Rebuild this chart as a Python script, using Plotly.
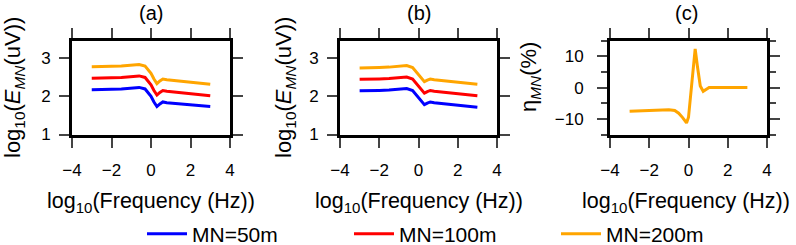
import plotly.graph_objects as go

# ---------------- data ----------------
log_freq = [-3, -2.5, -2, -1.5, -1, -0.6, -0.3, 0, 0.15, 0.3, 0.45, 0.6, 0.8, 1.0, 1.5, 2, 2.5, 3]

a_mn50 = [2.17, 2.17, 2.18, 2.19, 2.21, 2.23, 2.19, 2.00, 1.85, 1.73, 1.80, 1.85, 1.83, 1.82, 1.80, 1.77, 1.75, 1.73]
a_mn100 = [2.47, 2.47, 2.48, 2.49, 2.51, 2.53, 2.49, 2.30, 2.15, 2.03, 2.10, 2.15, 2.13, 2.12, 2.10, 2.07, 2.04, 2.01]
a_mn200 = [2.77, 2.77, 2.78, 2.79, 2.81, 2.83, 2.79, 2.60, 2.45, 2.33, 2.40, 2.45, 2.43, 2.42, 2.40, 2.37, 2.34, 2.31]

b_mn50 = [2.14, 2.14, 2.15, 2.16, 2.18, 2.20, 2.15, 1.95, 1.85, 1.78, 1.82, 1.85, 1.83, 1.82, 1.80, 1.77, 1.74, 1.71]
b_mn100 = [2.44, 2.44, 2.45, 2.46, 2.48, 2.50, 2.45, 2.25, 2.15, 2.08, 2.12, 2.15, 2.13, 2.12, 2.10, 2.07, 2.04, 2.01]
b_mn200 = [2.74, 2.74, 2.75, 2.76, 2.78, 2.80, 2.75, 2.55, 2.45, 2.38, 2.42, 2.45, 2.43, 2.42, 2.40, 2.37, 2.34, 2.31]

eta_freq = [-3, -2.5, -2, -1.5, -1, -0.7, -0.5, -0.3, -0.1, 0.0, 0.1, 0.2, 0.28, 0.34, 0.45, 0.6, 0.75, 0.9, 1.05, 1.5, 2, 2.5, 3]
eta_mn200 = [-7.6, -7.5, -7.4, -7.3, -7.1, -7.3, -8.2, -9.6, -11.3, -9.5, -3.0, 4.0, 10.0, 12.4, 7.0, 0.5, -1.2, -0.5, 0.0, 0.0, 0.0, 0.0, 0.0]

series_names = ["MN=50m", "MN=100m", "MN=200m"]
series_colors = ["#0000FF", "#FF0000", "#FFA500"]

x_ticks = [-4, -2, 0, 2, 4]
e_ticks = [1, 2, 3]
eta_ticks = [-10, 0, 10]
panel_titles = ["(a)", "(b)", "(c)"]
x_title = "log<sub>10</sub>(Frequency (Hz))"
e_title = "log<sub>10</sub>(<i>E</i><sub><i>MN</i></sub>(uV))"
eta_title = "η<sub><i>MN</i></sub>(%)"

# ---------------- figure ----------------
FONT = "Liberation Sans, Arial, Helvetica, sans-serif"
W, H = 796, 245
fig = go.Figure()

for ys, name, col in zip([a_mn50, a_mn100, a_mn200], series_names, series_colors):
    fig.add_trace(go.Scatter(x=log_freq, y=ys, mode="lines", name=name,
                             line=dict(color=col, width=3), legendgroup=name,
                             showlegend=True, xaxis="x", yaxis="y"))
for ys, name, col in zip([b_mn50, b_mn100, b_mn200], series_names, series_colors):
    fig.add_trace(go.Scatter(x=log_freq, y=ys, mode="lines", name=name,
                             line=dict(color=col, width=3), legendgroup=name,
                             showlegend=False, xaxis="x2", yaxis="y2"))
fig.add_trace(go.Scatter(x=eta_freq, y=eta_mn200, mode="lines", name=series_names[2],
                         line=dict(color=series_colors[2], width=3), legendgroup=series_names[2],
                         showlegend=False, xaxis="x3", yaxis="y3"))


def px_x(p):
    return p / W


def px_y(p):
    return 1 - p / H


top, bot = 40.7, 134.5
ydom = [px_y(bot), px_y(top)]
xdoms = [[px_x(72), px_x(230)], [px_x(340), px_x(497)], [px_x(610), px_x(767)]]

common = dict(showline=True, linewidth=3, linecolor="black", mirror="allticks",
              ticks="outside", ticklen=10, tickwidth=2, tickcolor="#444",
              showgrid=False, zeroline=False, automargin=False,
              tickfont=dict(family=FONT, size=17, color="black"))

for k in range(3):
    sx = "" if k == 0 else str(k + 1)
    fig.update_layout(**{
        "xaxis" + sx: dict(domain=xdoms[k], range=[-4, 4], tickvals=x_ticks,
                           anchor="y" + sx, ticklabelstandoff=8, **common),
    })
fig.update_layout(
    yaxis=dict(domain=ydom, range=[1, 3.45], tickvals=e_ticks, anchor="x",
               ticklabelstandoff=5, **common),
    yaxis2=dict(domain=ydom, range=[1, 3.45], tickvals=e_ticks, anchor="x2",
                ticklabelstandoff=5, **common),
    yaxis3=dict(domain=ydom, range=[-15, 15], tickvals=eta_ticks, anchor="x3",
                ticklabelstandoff=10,
                minor=dict(dtick=5, ticks="outside", ticklen=6, tickwidth=2, tickcolor="#444"),
                **common),
)

ann = []
centers = [151, 418.5, 686]
for k in range(3):
    ann.append(dict(text=panel_titles[k], x=px_x(centers[k]), y=px_y(13), xref="paper", yref="paper",
                    showarrow=False, xanchor="center", yanchor="middle",
                    font=dict(family=FONT, size=20, color="black")))
    ann.append(dict(text=x_title, x=px_x(centers[k]), y=px_y(202), xref="paper", yref="paper",
                    showarrow=False, xanchor="center", yanchor="middle",
                    font=dict(family=FONT, size=21.5, color="black")))
for xc, t, yc in [(14, e_title, 88), (285, e_title, 88), (530, eta_title, 77)]:
    ann.append(dict(text=t, x=px_x(xc), y=px_y(yc), xref="paper", yref="paper", textangle=-90,
                    showarrow=False, xanchor="center", yanchor="middle",
                    font=dict(family=FONT, size=22, color="black")))

fig.update_layout(
    width=W, height=H, margin=dict(l=0, r=0, t=0, b=0, autoexpand=False),
    paper_bgcolor="white", plot_bgcolor="white",
    font=dict(family=FONT, color="black"),
    annotations=ann,
    legend=dict(orientation="h", x=px_x(142), y=px_y(234), xanchor="left", yanchor="middle",
                font=dict(family=FONT, size=21, color="black"),
                entrywidth=152, entrywidthmode="pixels", itemwidth=40,
                bgcolor="rgba(0,0,0,0)"),
)

fig.write_html("out.html", config={"displayModeBar": False},
               post_script="document.body.style.margin='0';document.body.style.overflow='hidden';")
